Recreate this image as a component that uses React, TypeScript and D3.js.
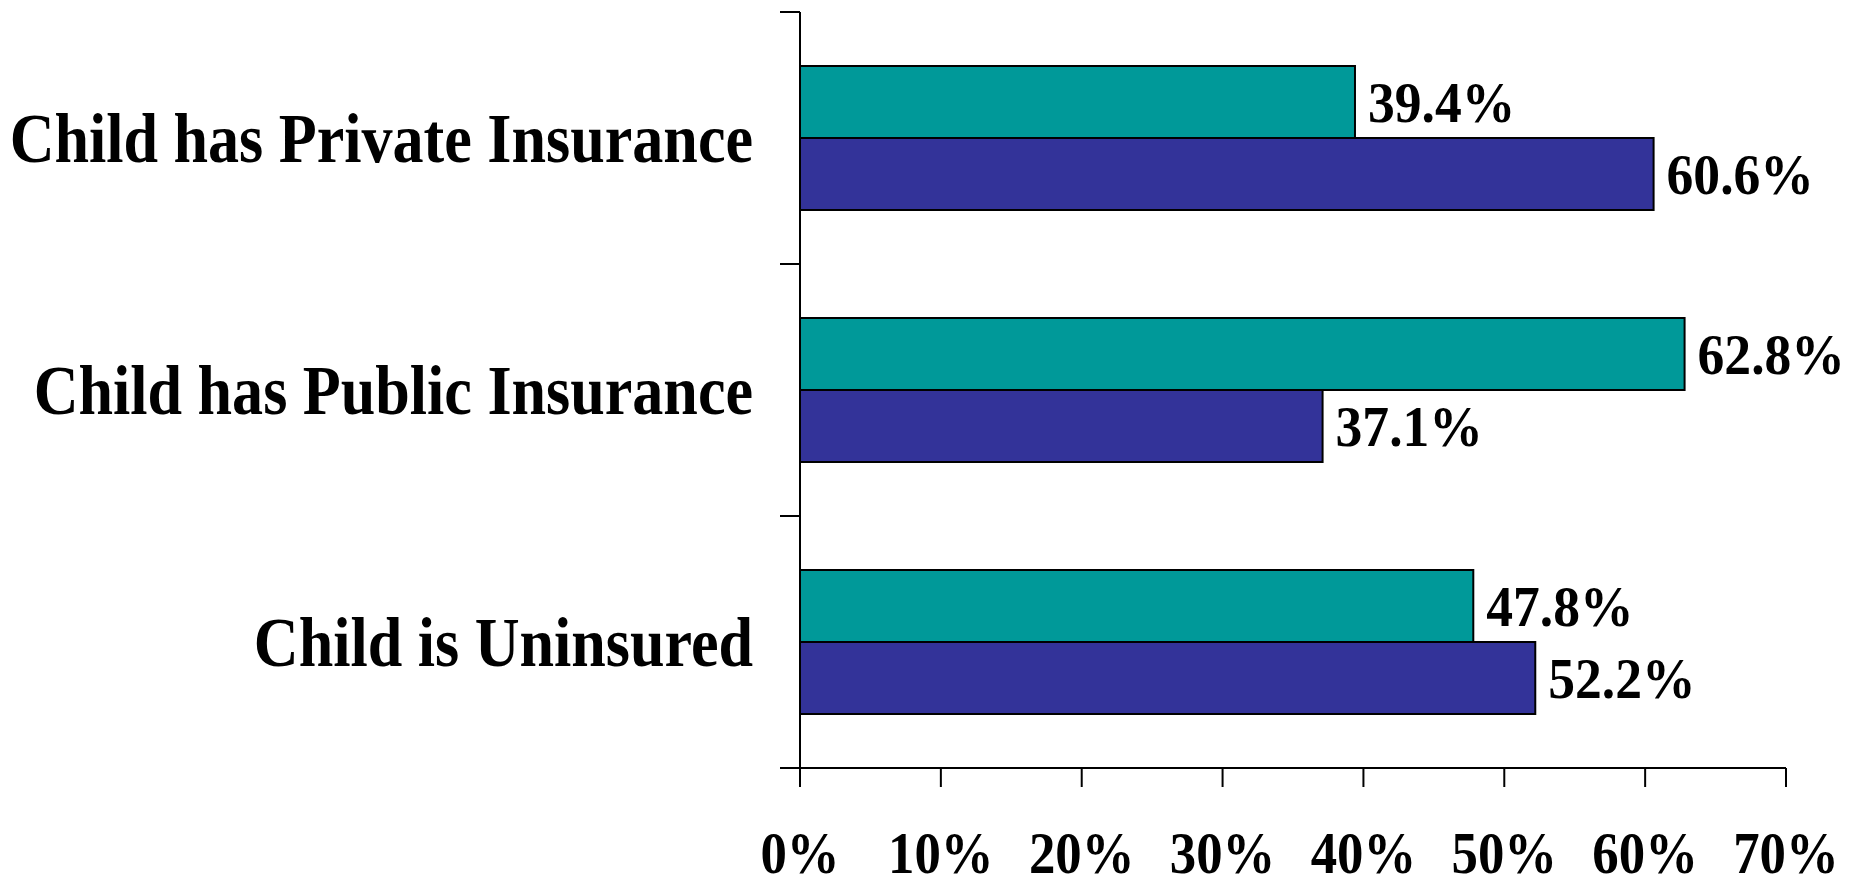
import React from 'react';
import * as d3 from 'd3';

// categories top to bottom
const categories = [
  'Child has Private Insurance',
  'Child has Public Insurance',
  'Child is Uninsured',
];
const series = ['teal', 'blue'];
const tealValues = [39.4, 62.8, 47.8];
const blueValues = [60.6, 37.1, 52.2];
const xTicks = [0, 10, 20, 30, 40, 50, 60, 70];

const W = 1860;
const H = 877;
const FONT = '"Liberation Serif", "Times New Roman", serif';
const colors: Record<string, string> = { teal: '#009999', blue: '#333399' };

const App: React.FC = () => {
  const x = d3.scaleLinear().domain([0, 70]).range([800, 1786]);
  const y = d3.scaleBand<string>().domain(categories).range([12, 768]);
  const yInner = d3
    .scaleBand<string>()
    .domain(series)
    .range([0, y.bandwidth()])
    .paddingInner(0)
    .paddingOuter(0.75);

  const rows = categories.map((c, i) => ({
    cat: c,
    vals: [
      { s: 'teal', v: tealValues[i] },
      { s: 'blue', v: blueValues[i] },
    ],
  }));

  const axisY = y.range()[1];
  const axisX = x(0);

  return (
    <div style={{ position: 'fixed', left: 0, top: 0, width: W, height: H, background: '#fff' }}>
      <svg width={W} height={H} style={{ display: 'block' }}>
        {/* bars */}
        {rows.map(r => (
          <g key={r.cat} transform={`translate(0,${y(r.cat)})`}>
            {r.vals.map(d => (
              <rect
                key={d.s}
                x={x(0)}
                y={yInner(d.s)}
                width={x(d.v) - x(0)}
                height={yInner.bandwidth()}
                fill={colors[d.s]}
                stroke="#000"
                strokeWidth={2}
              />
            ))}
            {r.vals.map(d => (
              <text
                key={'l' + d.s}
                transform={`translate(${x(d.v) + 13},${yInner(d.s)! + yInner.bandwidth() / 2 + 20}) scale(0.94,1)`}
                fontFamily={FONT}
                fontWeight="bold"
                fontSize={57}
                fill="#000"
              >
                {d.v.toFixed(1)}%
              </text>
            ))}
            <text
              transform={`translate(753,${y.bandwidth() / 2 + 24}) scale(0.9,1)`}
              textAnchor="end"
              fontFamily={FONT}
              fontWeight="bold"
              fontSize={69}
              fill="#000"
            >
              {r.cat}
            </text>
          </g>
        ))}

        {/* y axis */}
        <line x1={axisX} x2={axisX} y1={y.range()[0]} y2={axisY} stroke="#000" strokeWidth={2} />
        {categories.map(c => (
          <line key={c} x1={axisX - 20} x2={axisX} y1={y(c)} y2={y(c)} stroke="#000" strokeWidth={2} />
        ))}

        {/* x axis */}
        <line x1={axisX - 20} x2={x(70)} y1={axisY} y2={axisY} stroke="#000" strokeWidth={2} />
        {xTicks.map(t => (
          <g key={t}>
            <line x1={x(t)} x2={x(t)} y1={axisY} y2={axisY + 19} stroke="#000" strokeWidth={2} />
            <text
              transform={`translate(${x(t)},873) scale(0.88,1)`}
              textAnchor="middle"
              fontFamily={FONT}
              fontWeight="bold"
              fontSize={60}
              fill="#000"
            >
              {t}%
            </text>
          </g>
        ))}
      </svg>
    </div>
  );
};

export default App;
